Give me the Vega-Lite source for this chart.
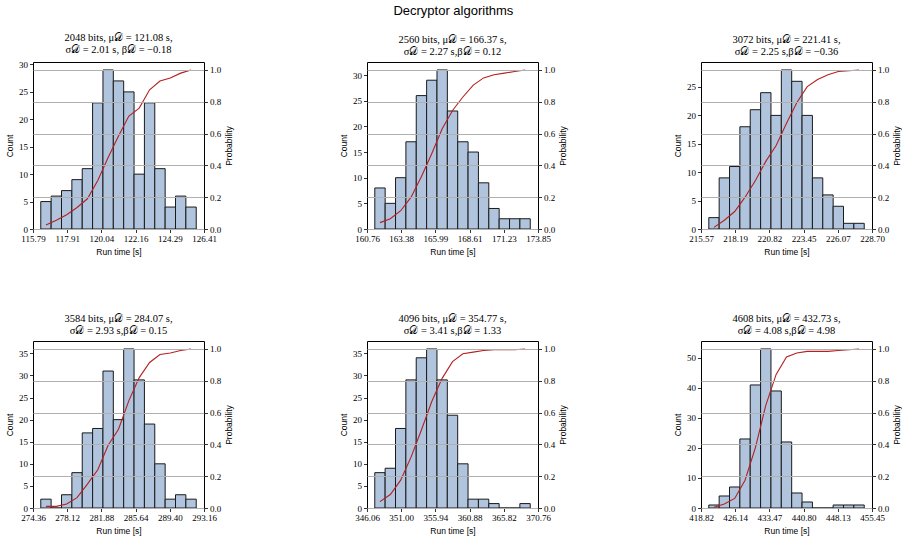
{
"$schema":"https://vega.github.io/schema/vega-lite/v6.json",
"padding":{"left":5,"top":5,"right":5,"bottom":5},
"title":{"text":"Decryptor algorithms","font":"Liberation Sans","fontSize":13,"anchor":"middle","offset":14},
"config":{
 "view":{"stroke":"#000","strokeWidth":1},
 "axis":{"domain":false,"grid":false,"tickColor":"#000","tickSize":3.5,"tickWidth":0.8,"labelFont":"Liberation Serif","labelFontSize":9,"labelColor":"#000","labelOverlap":false,"labelFlush":false,"titleFont":"Liberation Sans","titleFontSize":8.5,"titleFontWeight":"normal","titleColor":"#000","labelPadding":2,"titlePadding":4,"gridColor":"#b0b0b0","gridWidth":1},
 "axisX":{"labelOverlap":false,"labelFlush":false,"labelSeparation":0},
 "title":{"font":"Liberation Serif","fontSize":10.5,"fontWeight":"normal","color":"#000","offset":5,"lineHeight":12}
},
"datasets":{
"p1":[
{"start":116.273,"end":116.917,"mid":116.595,"count":5,"cdf":0.025},
{"start":116.917,"end":117.560,"mid":117.239,"count":6,"cdf":0.055},
{"start":117.560,"end":118.204,"mid":117.882,"count":7,"cdf":0.09},
{"start":118.204,"end":118.848,"mid":118.526,"count":9,"cdf":0.135},
{"start":118.848,"end":119.491,"mid":119.169,"count":11,"cdf":0.19},
{"start":119.491,"end":120.135,"mid":119.813,"count":23,"cdf":0.305},
{"start":120.135,"end":120.778,"mid":120.456,"count":29,"cdf":0.45},
{"start":120.778,"end":121.422,"mid":121.100,"count":27,"cdf":0.585},
{"start":121.422,"end":122.066,"mid":121.744,"count":25,"cdf":0.71},
{"start":122.066,"end":122.709,"mid":122.387,"count":10,"cdf":0.76},
{"start":122.709,"end":123.353,"mid":123.031,"count":23,"cdf":0.875},
{"start":123.353,"end":123.997,"mid":123.675,"count":11,"cdf":0.93},
{"start":123.997,"end":124.640,"mid":124.318,"count":4,"cdf":0.95},
{"start":124.640,"end":125.284,"mid":124.962,"count":6,"cdf":0.98},
{"start":125.284,"end":125.928,"mid":125.606,"count":4,"cdf":1.0}
],
"p2":[
{"start":161.355,"end":162.148,"mid":161.752,"count":8,"cdf":0.04},
{"start":162.148,"end":162.942,"mid":162.545,"count":5,"cdf":0.065},
{"start":162.942,"end":163.735,"mid":163.338,"count":10,"cdf":0.115},
{"start":163.735,"end":164.528,"mid":164.132,"count":17,"cdf":0.2},
{"start":164.528,"end":165.322,"mid":164.925,"count":26,"cdf":0.33},
{"start":165.322,"end":166.115,"mid":165.718,"count":29,"cdf":0.475},
{"start":166.115,"end":166.908,"mid":166.512,"count":31,"cdf":0.63},
{"start":166.908,"end":167.702,"mid":167.305,"count":23,"cdf":0.745},
{"start":167.702,"end":168.495,"mid":168.098,"count":17,"cdf":0.83},
{"start":168.495,"end":169.288,"mid":168.892,"count":15,"cdf":0.905},
{"start":169.288,"end":170.082,"mid":169.685,"count":9,"cdf":0.95},
{"start":170.082,"end":170.875,"mid":170.478,"count":4,"cdf":0.97},
{"start":170.875,"end":171.668,"mid":171.272,"count":2,"cdf":0.98},
{"start":171.668,"end":172.462,"mid":172.065,"count":2,"cdf":0.99},
{"start":172.462,"end":173.255,"mid":172.858,"count":2,"cdf":1.0}
],
"p3":[
{"start":216.167,"end":216.963,"mid":216.565,"count":2,"cdf":0.01},
{"start":216.963,"end":217.758,"mid":217.360,"count":9,"cdf":0.055},
{"start":217.758,"end":218.554,"mid":218.156,"count":11,"cdf":0.11},
{"start":218.554,"end":219.350,"mid":218.952,"count":18,"cdf":0.2},
{"start":219.350,"end":220.146,"mid":219.748,"count":21,"cdf":0.305},
{"start":220.146,"end":220.941,"mid":220.543,"count":24,"cdf":0.425},
{"start":220.941,"end":221.737,"mid":221.339,"count":20,"cdf":0.525},
{"start":221.737,"end":222.533,"mid":222.135,"count":28,"cdf":0.665},
{"start":222.533,"end":223.329,"mid":222.931,"count":26,"cdf":0.795},
{"start":223.329,"end":224.124,"mid":223.726,"count":20,"cdf":0.895},
{"start":224.124,"end":224.920,"mid":224.522,"count":9,"cdf":0.94},
{"start":224.920,"end":225.716,"mid":225.318,"count":6,"cdf":0.97},
{"start":225.716,"end":226.512,"mid":226.114,"count":4,"cdf":0.99},
{"start":226.512,"end":227.307,"mid":226.909,"count":1,"cdf":0.995},
{"start":227.307,"end":228.103,"mid":227.705,"count":1,"cdf":1.0}
],
"p4":[
{"start":275.215,"end":276.354,"mid":275.785,"count":2,"cdf":0.01},
{"start":276.354,"end":277.494,"mid":276.924,"count":0,"cdf":0.01},
{"start":277.494,"end":278.633,"mid":278.063,"count":3,"cdf":0.025},
{"start":278.633,"end":279.773,"mid":279.203,"count":8,"cdf":0.065},
{"start":279.773,"end":280.912,"mid":280.342,"count":17,"cdf":0.15},
{"start":280.912,"end":282.051,"mid":281.482,"count":18,"cdf":0.24},
{"start":282.051,"end":283.191,"mid":282.621,"count":31,"cdf":0.395},
{"start":283.191,"end":284.330,"mid":283.760,"count":20,"cdf":0.495},
{"start":284.330,"end":285.470,"mid":284.900,"count":36,"cdf":0.675},
{"start":285.470,"end":286.609,"mid":286.039,"count":29,"cdf":0.82},
{"start":286.609,"end":287.748,"mid":287.179,"count":19,"cdf":0.915},
{"start":287.748,"end":288.888,"mid":288.318,"count":10,"cdf":0.965},
{"start":288.888,"end":290.027,"mid":289.457,"count":2,"cdf":0.975},
{"start":290.027,"end":291.167,"mid":290.597,"count":3,"cdf":0.99},
{"start":291.167,"end":292.306,"mid":291.736,"count":2,"cdf":1.0}
],
"p5":[
{"start":347.183,"end":348.680,"mid":347.931,"count":8,"cdf":0.04},
{"start":348.680,"end":350.177,"mid":349.428,"count":9,"cdf":0.085},
{"start":350.177,"end":351.674,"mid":350.925,"count":18,"cdf":0.175},
{"start":351.674,"end":353.171,"mid":352.422,"count":29,"cdf":0.32},
{"start":353.171,"end":354.668,"mid":353.919,"count":34,"cdf":0.49},
{"start":354.668,"end":356.165,"mid":355.416,"count":36,"cdf":0.67},
{"start":356.165,"end":357.662,"mid":356.913,"count":29,"cdf":0.815},
{"start":357.662,"end":359.159,"mid":358.410,"count":21,"cdf":0.92},
{"start":359.159,"end":360.656,"mid":359.907,"count":10,"cdf":0.97},
{"start":360.656,"end":362.153,"mid":361.404,"count":2,"cdf":0.98},
{"start":362.153,"end":363.650,"mid":362.901,"count":2,"cdf":0.99},
{"start":363.650,"end":365.147,"mid":364.398,"count":1,"cdf":0.995},
{"start":365.147,"end":366.644,"mid":365.895,"count":0,"cdf":0.995},
{"start":366.644,"end":368.141,"mid":367.392,"count":0,"cdf":0.995},
{"start":368.141,"end":369.638,"mid":368.889,"count":1,"cdf":1.0}
],
"p6":[
{"start":420.485,"end":422.705,"mid":421.595,"count":1,"cdf":0.005},
{"start":422.705,"end":424.925,"mid":423.815,"count":4,"cdf":0.025},
{"start":424.925,"end":427.145,"mid":426.035,"count":7,"cdf":0.06},
{"start":427.145,"end":429.365,"mid":428.255,"count":23,"cdf":0.175},
{"start":429.365,"end":431.585,"mid":430.475,"count":41,"cdf":0.38},
{"start":431.585,"end":433.805,"mid":432.695,"count":53,"cdf":0.645},
{"start":433.805,"end":436.025,"mid":434.915,"count":39,"cdf":0.84},
{"start":436.025,"end":438.245,"mid":437.135,"count":22,"cdf":0.95},
{"start":438.245,"end":440.465,"mid":439.355,"count":5,"cdf":0.975},
{"start":440.465,"end":442.685,"mid":441.575,"count":2,"cdf":0.985},
{"start":442.685,"end":444.905,"mid":443.795,"count":0,"cdf":0.985},
{"start":444.905,"end":447.125,"mid":446.015,"count":0,"cdf":0.985},
{"start":447.125,"end":449.345,"mid":448.235,"count":1,"cdf":0.99},
{"start":449.345,"end":451.565,"mid":450.455,"count":1,"cdf":0.995},
{"start":451.565,"end":453.785,"mid":452.675,"count":1,"cdf":1.0}
]
},
"columns":3,
"bounds":"flush",
"spacing":{"row":112,"column":163},
"concat":[
{"width":171,"height":167,"title":{"text":["2048 bits, μ𝒟 = 121.08 s,","σ𝒟 = 2.01 s, β𝒟 = −0.18"]},"data":{"name":"p1"},
 "layer":[
  {"mark":{"type":"rect","fill":"#b0c4de","stroke":"#1a1a1a","strokeWidth":1},
   "encoding":{"x":{"field":"start","type":"quantitative","scale":{"domain":[115.79,126.41],"nice":false,"zero":false},"axis":{"values":[115.79,117.914,120.038,122.162,124.286,126.41],"format":".2f","title":"Run time [s]","labelOverlap":false,"labelFlush":false}},
    "x2":{"field":"end"},
    "y":{"field":"count","type":"quantitative","scale":{"domain":[0,30.45],"nice":false},"axis":{"values":[0,5,10,15,20,25,30],"title":"Count"}},
    "y2":{"datum":0}}},
  {"mark":{"type":"line","color":"#b52020","strokeWidth":1.1},
   "encoding":{"x":{"field":"mid","type":"quantitative","axis":{"values":[115.79,117.914,120.038,122.162,124.286,126.41],"format":".2f","title":"Run time [s]","labelOverlap":false,"labelFlush":false}},
    "y":{"field":"cdf","type":"quantitative","scale":{"domain":[0,1.05],"nice":false},"axis":{"orient":"right","values":[0,0.2,0.4,0.6,0.8,1],"format":".1f","title":"Probability","grid":true,"zindex":1,"titleAngle":270,"titleBaseline":"top"}}}}
 ],
 "resolve":{"scale":{"y":"independent"},"axis":{"y":"independent"}}},
{"width":171,"height":167,"title":{"text":["2560 bits, μ𝒟 = 166.37 s,","σ𝒟 = 2.27 s,β𝒟 = 0.12"]},"data":{"name":"p2"},
 "layer":[
  {"mark":{"type":"rect","fill":"#b0c4de","stroke":"#1a1a1a","strokeWidth":1},
   "encoding":{"x":{"field":"start","type":"quantitative","scale":{"domain":[160.757,173.848],"nice":false,"zero":false},"axis":{"values":[160.757,163.3752,165.9934,168.6116,171.2298,173.848],"format":".2f","title":"Run time [s]","labelOverlap":false,"labelFlush":false}},
    "x2":{"field":"end"},
    "y":{"field":"count","type":"quantitative","scale":{"domain":[0,32.55],"nice":false},"axis":{"values":[0,5,10,15,20,25,30],"title":"Count"}},
    "y2":{"datum":0}}},
  {"mark":{"type":"line","color":"#b52020","strokeWidth":1.1},
   "encoding":{"x":{"field":"mid","type":"quantitative","axis":{"values":[160.757,163.3752,165.9934,168.6116,171.2298,173.848],"format":".2f","title":"Run time [s]","labelOverlap":false,"labelFlush":false}},
    "y":{"field":"cdf","type":"quantitative","scale":{"domain":[0,1.05],"nice":false},"axis":{"orient":"right","values":[0,0.2,0.4,0.6,0.8,1],"format":".1f","title":"Probability","grid":true,"zindex":1,"titleAngle":270,"titleBaseline":"top"}}}}
 ],
 "resolve":{"scale":{"y":"independent"},"axis":{"y":"independent"}}},
{"width":171,"height":167,"title":{"text":["3072 bits, μ𝒟 = 221.41 s,","σ𝒟 = 2.25 s,β𝒟 = −0.36"]},"data":{"name":"p3"},
 "layer":[
  {"mark":{"type":"rect","fill":"#b0c4de","stroke":"#1a1a1a","strokeWidth":1},
   "encoding":{"x":{"field":"start","type":"quantitative","scale":{"domain":[215.568,228.7],"nice":false,"zero":false},"axis":{"values":[215.568,218.1944,220.8208,223.4472,226.0736,228.7],"format":".2f","title":"Run time [s]","labelOverlap":false,"labelFlush":false}},
    "x2":{"field":"end"},
    "y":{"field":"count","type":"quantitative","scale":{"domain":[0,29.4],"nice":false},"axis":{"values":[0,5,10,15,20,25],"title":"Count"}},
    "y2":{"datum":0}}},
  {"mark":{"type":"line","color":"#b52020","strokeWidth":1.1},
   "encoding":{"x":{"field":"mid","type":"quantitative","axis":{"values":[215.568,218.1944,220.8208,223.4472,226.0736,228.7],"format":".2f","title":"Run time [s]","labelOverlap":false,"labelFlush":false}},
    "y":{"field":"cdf","type":"quantitative","scale":{"domain":[0,1.05],"nice":false},"axis":{"orient":"right","values":[0,0.2,0.4,0.6,0.8,1],"format":".1f","title":"Probability","grid":true,"zindex":1,"titleAngle":270,"titleBaseline":"top"}}}}
 ],
 "resolve":{"scale":{"y":"independent"},"axis":{"y":"independent"}}},
{"width":171,"height":167,"title":{"text":["3584 bits, μ𝒟 = 284.07 s,","σ𝒟 = 2.93 s,β𝒟 = 0.15"]},"data":{"name":"p4"},
 "layer":[
  {"mark":{"type":"rect","fill":"#b0c4de","stroke":"#1a1a1a","strokeWidth":1},
   "encoding":{"x":{"field":"start","type":"quantitative","scale":{"domain":[274.36,293.16],"nice":false,"zero":false},"axis":{"values":[274.36,278.12,281.88,285.64,289.4,293.16],"format":".2f","title":"Run time [s]","labelOverlap":false,"labelFlush":false}},
    "x2":{"field":"end"},
    "y":{"field":"count","type":"quantitative","scale":{"domain":[0,37.8],"nice":false},"axis":{"values":[0,5,10,15,20,25,30,35],"title":"Count"}},
    "y2":{"datum":0}}},
  {"mark":{"type":"line","color":"#b52020","strokeWidth":1.1},
   "encoding":{"x":{"field":"mid","type":"quantitative","axis":{"values":[274.36,278.12,281.88,285.64,289.4,293.16],"format":".2f","title":"Run time [s]","labelOverlap":false,"labelFlush":false}},
    "y":{"field":"cdf","type":"quantitative","scale":{"domain":[0,1.05],"nice":false},"axis":{"orient":"right","values":[0,0.2,0.4,0.6,0.8,1],"format":".1f","title":"Probability","grid":true,"zindex":1,"titleAngle":270,"titleBaseline":"top"}}}}
 ],
 "resolve":{"scale":{"y":"independent"},"axis":{"y":"independent"}}},
{"width":171,"height":167,"title":{"text":["4096 bits, μ𝒟 = 354.77 s,","σ𝒟 = 3.41 s,β𝒟 = 1.33"]},"data":{"name":"p5"},
 "layer":[
  {"mark":{"type":"rect","fill":"#b0c4de","stroke":"#1a1a1a","strokeWidth":1},
   "encoding":{"x":{"field":"start","type":"quantitative","scale":{"domain":[346.06,370.76],"nice":false,"zero":false},"axis":{"values":[346.06,351.0,355.94,360.88,365.82,370.76],"format":".2f","title":"Run time [s]","labelOverlap":false,"labelFlush":false}},
    "x2":{"field":"end"},
    "y":{"field":"count","type":"quantitative","scale":{"domain":[0,37.8],"nice":false},"axis":{"values":[0,5,10,15,20,25,30,35],"title":"Count"}},
    "y2":{"datum":0}}},
  {"mark":{"type":"line","color":"#b52020","strokeWidth":1.1},
   "encoding":{"x":{"field":"mid","type":"quantitative","axis":{"values":[346.06,351.0,355.94,360.88,365.82,370.76],"format":".2f","title":"Run time [s]","labelOverlap":false,"labelFlush":false}},
    "y":{"field":"cdf","type":"quantitative","scale":{"domain":[0,1.05],"nice":false},"axis":{"orient":"right","values":[0,0.2,0.4,0.6,0.8,1],"format":".1f","title":"Probability","grid":true,"zindex":1,"titleAngle":270,"titleBaseline":"top"}}}}
 ],
 "resolve":{"scale":{"y":"independent"},"axis":{"y":"independent"}}},
{"width":171,"height":167,"title":{"text":["4608 bits, μ𝒟 = 432.73 s,","σ𝒟 = 4.08 s,β𝒟 = 4.98"]},"data":{"name":"p6"},
 "layer":[
  {"mark":{"type":"rect","fill":"#b0c4de","stroke":"#1a1a1a","strokeWidth":1},
   "encoding":{"x":{"field":"start","type":"quantitative","scale":{"domain":[418.818,455.452],"nice":false,"zero":false},"axis":{"values":[418.818,426.1448,433.4716,440.7984,448.1252,455.452],"format":".2f","title":"Run time [s]","labelOverlap":false,"labelFlush":false}},
    "x2":{"field":"end"},
    "y":{"field":"count","type":"quantitative","scale":{"domain":[0,55.65],"nice":false},"axis":{"values":[0,10,20,30,40,50],"title":"Count"}},
    "y2":{"datum":0}}},
  {"mark":{"type":"line","color":"#b52020","strokeWidth":1.1},
   "encoding":{"x":{"field":"mid","type":"quantitative","axis":{"values":[418.818,426.1448,433.4716,440.7984,448.1252,455.452],"format":".2f","title":"Run time [s]","labelOverlap":false,"labelFlush":false}},
    "y":{"field":"cdf","type":"quantitative","scale":{"domain":[0,1.05],"nice":false},"axis":{"orient":"right","values":[0,0.2,0.4,0.6,0.8,1],"format":".1f","title":"Probability","grid":true,"zindex":1,"titleAngle":270,"titleBaseline":"top"}}}}
 ],
 "resolve":{"scale":{"y":"independent"},"axis":{"y":"independent"}}}
]
}
